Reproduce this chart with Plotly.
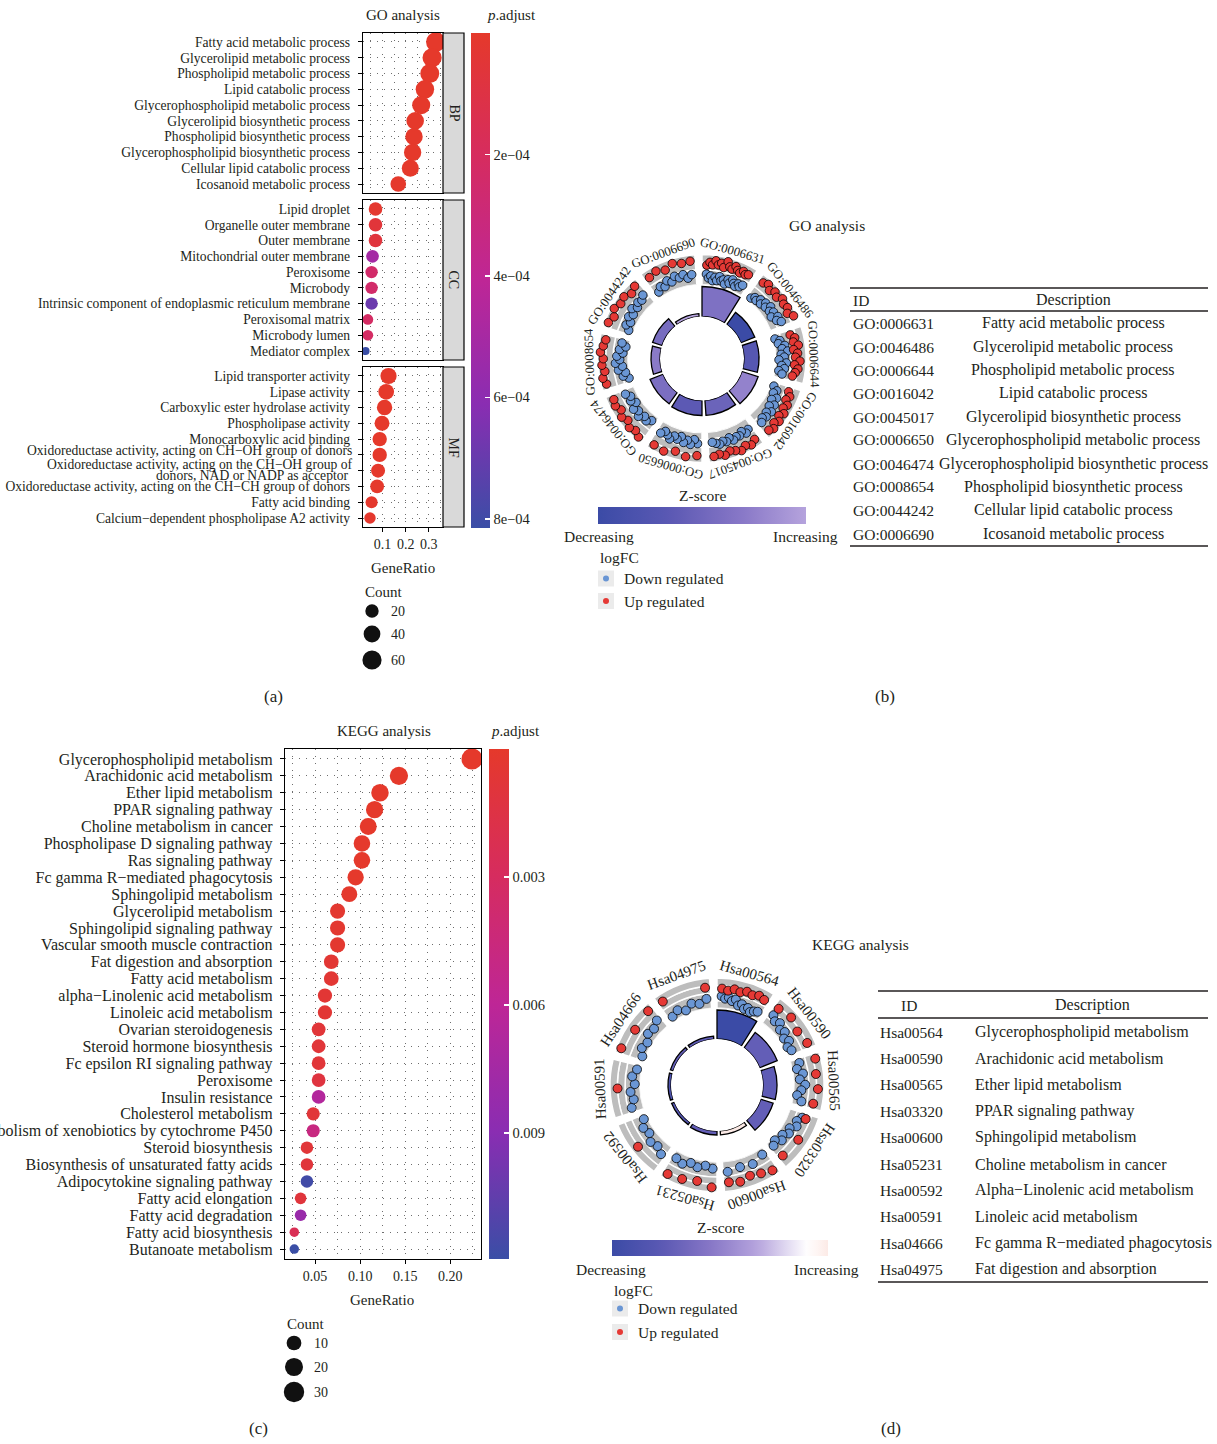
import math
import plotly.graph_objects as go

W, H = 1217, 1444
FONT = "Liberation Serif"
TXT = "#231F20"


def X(px):
    return px / W


def Y(py):
    return 1 - py / H


# ------------------------------------------------------------------ data
bp_terms = ["Fatty acid metabolic process", "Glycerolipid metabolic process",
            "Phospholipid metabolic process", "Lipid catabolic process",
            "Glycerophospholipid metabolic process", "Glycerolipid biosynthetic process",
            "Phospholipid biosynthetic process", "Glycerophospholipid biosynthetic process",
            "Cellular lipid catabolic process", "Icosanoid metabolic process"]
bp_ratio = [0.330, 0.314, 0.304, 0.283, 0.267, 0.241, 0.236, 0.230, 0.220, 0.168]
bp_count = [63, 60, 58, 54, 51, 46, 45, 44, 42, 32]
bp_padj = [3.1e-14, 4.0e-9, 2.2e-9, 6.5e-10, 1.5e-8, 2.6e-8, 3.1e-8, 4.4e-8, 9.0e-8, 2.0e-6]

cc_terms = ["Lipid droplet", "Organelle outer membrane", "Outer membrane",
            "Mitochondrial outer membrane", "Peroxisome", "Microbody",
            "Intrinsic component of endoplasmic reticulum membrane", "Peroxisomal matrix",
            "Microbody lumen", "Mediator complex"]
cc_ratio = [0.070, 0.070, 0.070, 0.057, 0.053, 0.053, 0.053, 0.037, 0.037, 0.027]
cc_count = [21, 21, 21, 17, 16, 16, 16, 11, 11, 8]
cc_padj = [1.6e-5, 6.0e-5, 7.0e-5, 5.1e-4, 2.4e-4, 2.4e-4, 6.9e-4, 2.2e-4, 2.2e-4, 8.15e-4]

mf_terms = ["Lipid transporter activity", "Lipase activity", "Carboxylic ester hydrolase activity",
            "Phospholipase activity", "Monocarboxylic acid binding",
            "Oxidoreductase activity, acting on CH\u2212OH group of donors",
            "Oxidoreductase activity, acting on the CH\u2212OH group of donors, NAD or NADP as acceptor",
            "Oxidoreductase activity, acting on the CH\u2212CH group of donors",
            "Fatty acid binding", "Calcium\u2212dependent phospholipase A2 activity"]
mf_ratio = [0.126, 0.116, 0.109, 0.098, 0.088, 0.088, 0.081, 0.077, 0.053, 0.046]
mf_count = [36, 33, 31, 28, 25, 25, 23, 22, 15, 13]
mf_padj = [2e-9, 5e-8, 8e-8, 3e-7, 1e-6, 1.5e-6, 2e-6, 3e-6, 8e-6, 1.2e-5]
# label lines for the two crowded MF rows (row 5 single line, row 6 wrapped)
mf_row5_label = "Oxidoreductase activity, acting on CH\u2212OH group of donors"
mf_wrapped = ["Oxidoreductase activity, acting on the CH\u2212OH group of",
              "donors, NAD or NADP as acceptor"]

kegg_terms = ["Glycerophospholipid metabolism", "Arachidonic acid metabolism", "Ether lipid metabolism",
              "PPAR signaling pathway", "Choline metabolism in cancer", "Phospholipase D signaling pathway",
              "Ras signaling pathway", "Fc gamma R\u2212mediated phagocytosis", "Sphingolipid metabolism",
              "Glycerolipid metabolism", "Sphingolipid signaling pathway", "Vascular smooth muscle contraction",
              "Fat digestion and absorption", "Fatty acid metabolism", "alpha\u2212Linolenic acid metabolism",
              "Linoleic acid metabolism", "Ovarian steroidogenesis", "Steroid hormone biosynthesis",
              "Fc epsilon RI signaling pathway", "Peroxisome", "Insulin resistance", "Cholesterol metabolism",
              "Metabolism of xenobiotics by cytochrome P450", "Steroid biosynthesis",
              "Biosynthesis of unsaturated fatty acids", "Adipocytokine signaling pathway",
              "Fatty acid elongation", "Fatty acid degradation", "Fatty acid biosynthesis",
              "Butanoate metabolism"]
kegg_count = [33, 21, 18, 17, 16, 15, 15, 14, 13, 11, 11, 11, 10, 10, 9, 9, 8, 8, 8, 8, 8, 7, 7, 6, 6, 6, 5, 5, 4, 4]
kegg_ratio = [0.224, 0.143, 0.122, 0.116, 0.109, 0.102, 0.102, 0.095, 0.088, 0.075, 0.075, 0.075,
              0.068, 0.068, 0.061, 0.061, 0.054, 0.054, 0.054, 0.054, 0.054, 0.048, 0.048,
              0.041, 0.041, 0.041, 0.034, 0.034, 0.027, 0.027]
kegg_padj = [1e-12, 1e-8, 1e-7, 5e-6, 1e-5, 3e-5, 3e-5, 5e-5, 1e-4, 3e-4, 3e-4, 3e-4, 5e-4, 5e-4,
             6e-4, 6e-4, 8e-4, 8e-4, 8e-4, 1.2e-3, 6.6e-3, 8e-4, 4.8e-3, 8e-4, 9e-4, 1.17e-2,
             1.0e-3, 8.1e-3, 2.4e-3, 1.195e-2]

# GO circle (panel b)
go_ids = ["GO:0006631", "GO:0046486", "GO:0006644", "GO:0016042", "GO:0045017",
          "GO:0006650", "GO:0046474", "GO:0008654", "GO:0044242", "GO:0006690"]
go_desc = ["Fatty acid metabolic process", "Glycerolipid metabolic process",
           "Phospholipid metabolic process", "Lipid catabolic process",
           "Glycerolipid biosynthetic process", "Glycerophospholipid metabolic process",
           "Glycerophospholipid biosynthetic process", "Phospholipid biosynthetic process",
           "Cellular lipid catabolic process", "Icosanoid metabolic process"]
go_logp = [15.0, 7.5, 7.5, 8.5, 7.5, 7.5, 7.0, 4.5, 5.0, 1.5]
go_zscore = [-2.5, -4.6, -3.6, -2.0, -3.0, -3.4, -2.6, -2.2, -2.7, -1.2]
go_down = [
    [-0.6, -1.1, -0.8, -1.4, -0.9, -1.3, -0.7, -1.2, -1.0, -1.5, -0.8, -1.2, -0.6, -1.0, -1.3, -0.8, -1.1, -0.7],
    [-1.5, -1.1, -1.3, -0.8, -1.2, -0.6, -1.0, -0.4, -0.9, -0.5, -1.1, -0.3, -0.7, -0.2],
    [-1.8, -1.2, -1.5, -0.7, -1.1, -0.4, -1.3, -0.9, -1.6, -0.6, -1.2, -0.8, -1.5, -1.0],
    [-1.6, -1.0, -1.3, -0.6, -1.1, -0.4, -0.9, -0.2, -0.7, -0.3, -0.6, -0.2],
    [-0.6, -0.3, -0.8, -0.4, -0.5, -0.2, -0.7, -0.3, -0.5, -0.2, -0.4, -0.6],
    [-0.5, -1.0, -0.3, -0.8, -0.4, -1.1, -0.6, -0.9, -0.3, -0.7, -1.0, -0.5],
    [-1.2, -0.7, -1.0, -0.4, -0.9, -0.5, -1.3, -0.8, -1.1, -0.6],
    [-1.8, -1.1, -1.5, -0.6, -1.2, -0.3, -0.9, -0.5, -1.3, -0.8, -1.6, -1.0],
    [-1.4, -0.8, -1.2, -0.6, -1.0, -0.4, -0.9, -0.5, -0.7, -0.3],
    [-1.3, -0.8, -1.1, -0.5, -0.9, -0.3, -0.7, -0.4, -1.0, -0.6],
]
go_up = [
    [0.6, 1.0, 0.7, 1.3, 0.8, 1.1, 0.6, 1.5, 0.9, 0.7, 1.2, 0.8, 0.6, 1.0, 0.7, 0.9],
    [1.1, 1.4, 0.9, 1.3, 1.0, 1.5, 1.2, 1.4, 1.0, 1.6],
    [0.3, 0.8, 0.5, 1.1, 0.4, 0.9, 0.6, 1.2, 0.5, 1.0, 0.7, 0.4],
    [0.5, 0.9, 0.6, 1.1, 0.8, 1.3, 0.9, 1.4, 1.0, 1.5, 1.2],
    [1.0, 1.4, 1.1, 1.5, 1.2, 1.0, 1.4, 1.1, 1.3],
    [1.1, 1.4, 1.0, 1.5, 1.3],
    [1.6, 1.2, 1.5, 1.0, 1.4, 0.9, 1.3, 1.1],
    [1.3, 1.6, 1.2, 1.5, 1.3, 1.7, 1.4, 1.2],
    [1.5, 1.1, 1.6, 1.2, 1.4, 0.9, 1.3],
    [1.0, 1.3, 0.9, 1.4, 1.1, 1.2],
]

# KEGG circle (panel d)
kg_ids = ["Hsa00564", "Hsa00590", "Hsa00565", "Hsa03320", "Hsa00600",
          "Hsa05231", "Hsa00592", "Hsa00591", "Hsa04666", "Hsa04975"]
kg_desc = ["Glycerophospholipid metabolism", "Arachidonic acid metabolism", "Ether lipid metabolism",
           "PPAR signaling pathway", "Sphingolipid metabolism", "Choline metabolism in cancer",
           "Alpha\u2212Linolenic acid metabolism", "Linoleic acid metabolism",
           "Fc gamma R\u2212mediated phagocytosis", "Fat digestion and absorption"]
kg_logp = [14.5, 9.5, 7.0, 6.5, 2.0, 2.0, 1.5, 1.5, 1.5, 1.5]
kg_zscore = [-3.3, -2.3, -2.4, -2.3, 0.35, -2.3, -2.6, -2.8, -2.3, -2.4]
kg_down = [
    [-0.4, -0.7, -0.5, -0.9, -0.6, -1.3, -1.0, -1.5, -1.2, -1.6, -1.3, -1.1],
    [-0.3, -0.8, -0.5, -1.1, -0.8, -1.4, -1.0, -1.6, -1.3],
    [-0.9, -1.4, -0.7, -1.2, -0.5, -1.0, -1.5, -0.8],
    [-0.1, -0.6, -0.3, -1.0, -0.7, -1.3, -0.9, -1.6, -1.2],
    [-1.2, -0.7, -0.9, -0.6],
    [-1.1, -1.4, -1.0, -1.3, -0.8, -1.1],
    [-0.4, -0.9, -0.6, -1.2, -0.9, -1.5],
    [-0.5, -1.0, -0.7, -1.3, -0.9, -1.4],
    [-1.6, -1.1, -1.4, -0.8, -1.0, -0.5],
    [-1.4, -1.0, -1.5, -0.9, -1.2, -0.7],
]
kg_up = [
    [0.6, 0.4, 0.7, 0.5, 0.8, 0.6, 0.9, 0.7],
    [0.8, 1.1, 0.6, 1.0],
    [1.3, 1.0, 1.2, 0.8],
    [0.4, 0.8, 0.6],
    [1.3, 0.9, 0.6, 1.0, 0.8],
    [1.4, 0.8, 1.1, 1.3],
    [1.1],
    [1.0],
    [1.4, 0.9, 1.2],
    [1.0, 0.8],
]

# ------------------------------------------------------------------ styles
RED_PT = "#E53935"
BLUE_PT = "#6A96D4"
GRID = "#6E6E6E"
PADJ_STOPS = [(0.0, (58, 78, 166)), (0.25, (138, 45, 178)), (0.5, (190, 38, 150)),
              (0.75, (214, 44, 95)), (1.0, (229, 57, 43))]
Z_STOPS = [(0.0, (59, 75, 166)), (0.125, (90, 88, 179)), (0.25, (134, 118, 198)),
           (0.375, (183, 165, 222)), (0.5, (255, 255, 255)), (0.6, (250, 215, 208)),
           (1.0, (229, 57, 53))]


def interp(stops, p):
    p = min(max(p, 0), 1)
    for (a, ca), (b, cb) in zip(stops[:-1], stops[1:]):
        if a <= p <= b:
            f = (p - a) / (b - a) if b > a else 0
            c = [round(ca[i] + (cb[i] - ca[i]) * f) for i in range(3)]
            return "rgb(%d,%d,%d)" % tuple(c)
    return "rgb(%d,%d,%d)" % stops[-1][1]


def z_colorscale(zs):
    lo, hi = min(zs), max(zs)
    A = max(abs(lo), abs(hi))
    out = []
    for k in range(21):
        z = lo + (hi - lo) * k / 20
        out.append([k / 20, interp(Z_STOPS, 0.5 + z / (2 * A))])
    return out


PADJ_SCALE = [[a, "rgb(%d,%d,%d)" % c] for a, c in PADJ_STOPS]


def size_scale(counts, dmin, dmax, lo, hi):
    return [dmin + (dmax - dmin) * ((c - lo) / (hi - lo)) ** 0.5 for c in counts]


fig = go.Figure()
annotations = []
shapes = []


def txt(x, y, s, size=14, xanchor="center", yanchor="middle", angle=0, color=TXT):
    annotations.append(dict(x=X(x), y=Y(y), xref="paper", yref="paper", text=s, showarrow=False,
                            xanchor=xanchor, yanchor=yanchor, textangle=angle,
                            font=dict(family=FONT, size=size, color=color)))


GRID_STYLE = dict(showgrid=True, gridcolor=GRID, gridwidth=1, griddash="1px,6px")

# ------------------------------------------------------------------ (a) GO dot plot
go_counts_all = bp_count + cc_count + mf_count
GO_LO, GO_HI = min(go_counts_all), max(go_counts_all)
facets = [(bp_terms, bp_ratio, bp_count, bp_padj, 33, 193, "BP"),
          (cc_terms, cc_ratio, cc_count, cc_padj, 200, 360, "CC"),
          (mf_terms, mf_ratio, mf_count, mf_padj, 367, 527, "MF")]
layout_axes = {}
GO_LAB = 13.6
special = {mf_terms[5], mf_terms[6]}
for i, (terms, ratio, count, padj, top, bot, lab) in enumerate(facets):
    k = i + 1
    xa = "x" if k == 1 else "x%d" % k
    ya = "y" if k == 1 else "y%d" % k
    fig.add_trace(go.Scatter(x=ratio, y=terms, mode="markers", xaxis=xa, yaxis=ya,
                             marker=dict(size=size_scale(count, 8, 19.5, GO_LO, GO_HI), opacity=1,
                                         color=[-p for p in padj], coloraxis="coloraxis",
                                         line=dict(width=0)),
                             hoverinfo="skip", showlegend=False))
    last = (k == 3)
    layout_axes["xaxis" if k == 1 else "xaxis%d" % k] = dict(
        domain=[X(363), X(443)], range=[0.016, 0.361], tickmode="array", tickvals=[0.1, 0.2, 0.3],
        ticktext=["0.1", "0.2", "0.3"], showticklabels=last, ticks="outside" if last else "",
        ticklen=4, tickcolor="black", showline=True, mirror=True, linecolor="black", linewidth=1.2,
        minor=dict(tickvals=[0.05, 0.15, 0.25, 0.35], **GRID_STYLE),
        zeroline=False, anchor=ya, automargin=False,
        tickfont=dict(size=14, color=TXT, family=FONT), **GRID_STYLE)
    n = len(terms)
    ticktext = ["" if t in special else t for t in terms]
    layout_axes["yaxis" if k == 1 else "yaxis%d" % k] = dict(
        domain=[Y(bot), Y(top)], type="category", categoryorder="array", categoryarray=terms,
        tickmode="array", tickvals=terms, ticktext=ticktext,
        range=[n - 1 + 0.57, -0.57], ticks="outside", ticklen=4, tickcolor="black",
        showline=True, mirror=True, linecolor="black", linewidth=1.2, zeroline=False,
        anchor=xa, automargin=False, tickfont=dict(size=GO_LAB, color=TXT, family=FONT),
        ticklabelstandoff=5, **GRID_STYLE)
    shapes.append(dict(type="rect", xref="paper", yref="paper", x0=X(443), x1=X(464),
                       y0=Y(bot), y1=Y(top), fillcolor="#D9D9D9", line=dict(color="black", width=1.2)))
    txt(453.5, (top + bot) / 2, lab, size=14, angle=90)
    if k == 3:
        def row_y(idx):
            return top + 9 + (bot - top - 18) * idx / (n - 1)
        txt(354, row_y(5) - 4, mf_row5_label, GO_LAB, xanchor="right")
        txt(354, row_y(6) - 6.5, mf_wrapped[0], GO_LAB, xanchor="right")
        txt(351, row_y(6) + 4.5, mf_wrapped[1], GO_LAB, xanchor="right")

txt(403, 15, "GO analysis", 15)
txt(485, 15, "<i>p</i>.adjust", 15, xanchor="left")
txt(403, 568, "GeneRatio", 15)
txt(363, 592, "Count", 15, xanchor="left")
for val, yy in zip([20, 40, 60], [611, 634, 660]):
    d = size_scale([val], 8, 19.5, GO_LO, GO_HI)[0]
    shapes.append(dict(type="circle", xref="paper", yref="paper", x0=X(372 - d / 2), x1=X(372 + d / 2),
                       y0=Y(yy + d / 2), y1=Y(yy - d / 2), fillcolor="#111", line=dict(width=0)))
    txt(389, yy, str(val), 14, xanchor="left")

# ------------------------------------------------------------------ (c) KEGG dot plot
K_LO, K_HI = min(kegg_count), max(kegg_count)
fig.add_trace(go.Scatter(x=kegg_ratio, y=kegg_terms, mode="markers", xaxis="x4", yaxis="y4",
                         marker=dict(size=size_scale(kegg_count, 9.5, 21, K_LO, K_HI), opacity=1,
                                     color=[-p for p in kegg_padj], coloraxis="coloraxis2",
                                     line=dict(width=0)),
                         hoverinfo="skip", showlegend=False))
nk = len(kegg_terms)
layout_axes["xaxis4"] = dict(
    domain=[X(285), X(481)], range=[0.0167, 0.234], tickmode="array", tickvals=[0.05, 0.10, 0.15, 0.20],
    ticktext=["0.05", "0.10", "0.15", "0.20"], ticks="outside", ticklen=4, tickcolor="black",
    showline=True, mirror=True, linecolor="black", linewidth=1.2,
    minor=dict(tickvals=[0.025, 0.075, 0.125, 0.175, 0.225], **GRID_STYLE),
    zeroline=False, anchor="y4", automargin=False, tickfont=dict(size=14, color=TXT, family=FONT),
    **GRID_STYLE)
layout_axes["yaxis4"] = dict(
    domain=[Y(1259), Y(749)], type="category", categoryorder="array", categoryarray=kegg_terms,
    tickmode="array", tickvals=kegg_terms, ticktext=kegg_terms,
    range=[nk - 1 + 0.59, -0.59], ticks="outside", ticklen=4, tickcolor="black",
    showline=True, mirror=True, linecolor="black", linewidth=1.2, zeroline=False,
    anchor="x4", automargin=False, tickfont=dict(size=16, color=TXT, family=FONT), ticklabelstandoff=4,
    **GRID_STYLE)

txt(384, 731, "KEGG analysis", 15)
txt(489, 731, "<i>p</i>.adjust", 15, xanchor="left")
txt(382, 1300, "GeneRatio", 15)
txt(285, 1324, "Count", 15, xanchor="left")
for val, yy in zip([10, 20, 30], [1343, 1367, 1392]):
    d = size_scale([val], 9.5, 21, K_LO, K_HI)[0]
    shapes.append(dict(type="circle", xref="paper", yref="paper", x0=X(294 - d / 2), x1=X(294 + d / 2),
                       y0=Y(yy + d / 2), y1=Y(yy - d / 2), fillcolor="#111", line=dict(width=0)))
    txt(312, yy, str(val), 14, xanchor="left")


# ------------------------------------------------------------------ circles
polar_layouts = {}


def add_circle(pin, pout, cx, cy, R, r_in, unit_px, r_band, lfc_px, lfc_lo, lfc_hi,
               ids, logp, zs, downs, ups, cax, lab_r, lab_size, pt_size):
    dom = dict(x=[X(cx - R), X(cx + R)], y=[Y(cy + R), Y(cy - R)])
    n = len(ids)
    step = 360 / n
    wdt = step - 4
    centers = [step * i + wdt / 2 for i in range(n)]
    fig.add_trace(go.Barpolar(r=logp, theta=centers, width=[wdt] * n, base=[0] * n, subplot=pin,
                              marker=dict(color=zs, coloraxis=cax, line=dict(color="black", width=1.3)),
                              hoverinfo="skip", showlegend=False))
    th, bs, rr = [], [], []
    for c in centers:
        for k in range(lfc_lo, lfc_hi):
            th.append(c)
            bs.append(k)
            rr.append(1)
    fig.add_trace(go.Barpolar(r=rr, theta=th, base=bs, width=[wdt] * len(th), subplot=pout,
                              marker=dict(color="#BDBDBD", line=dict(color="white", width=1.5)),
                              hoverinfo="skip", showlegend=False))
    for lists, col in [(downs, BLUE_PT), (ups, RED_PT)]:
        th, rr = [], []
        for i, vals in enumerate(lists):
            m = len(vals)
            a0 = step * i + 3
            a1 = step * i + wdt - 3
            for j, v in enumerate(vals):
                th.append(a0 + (a1 - a0) * j / (m - 1) if m > 1 else (a0 + a1) / 2)
                rr.append(v)
        fig.add_trace(go.Scatterpolar(r=rr, theta=th, mode="markers", subplot=pout, cliponaxis=False,
                                      marker=dict(size=pt_size, color=col, opacity=1,
                                                  line=dict(color="black", width=0.8)),
                                      hoverinfo="skip", showlegend=False))
    ang = dict(rotation=90, direction="clockwise", visible=False)
    polar_layouts[pin] = dict(domain=dom, hole=r_in / R, bgcolor="rgba(0,0,0,0)", barmode="overlay",
                              angularaxis=ang, radialaxis=dict(range=[0, (R - r_in) / unit_px], visible=False))
    polar_layouts[pout] = dict(domain=dom, hole=r_band / R, bgcolor="rgba(0,0,0,0)", barmode="overlay",
                               angularaxis=ang,
                               radialaxis=dict(range=[lfc_lo, lfc_lo + (R - r_band) / lfc_px], visible=False))
    for c, lab in zip(centers, ids):
        a = math.radians(c)
        annotations.append(dict(x=X(cx + lab_r * math.sin(a)), y=Y(cy - lab_r * math.cos(a)),
                                xref="paper", yref="paper", text=lab, showarrow=False,
                                xanchor="center", yanchor="middle",
                                textangle=c if c <= 180 else c - 360,
                                font=dict(family=FONT, size=lab_size, color=TXT)))


add_circle("polar", "polar2", 702, 358.5, 125, 42, 2, 74, 7.5, -2, 2,
           go_ids, go_logp, go_zscore, go_down, go_up, "coloraxis3", 112, 12.8, 8.5)
add_circle("polar3", "polar4", 717, 1085, 125, 46, 2, 77, 7.5, -2, 2,
           kg_ids, kg_logp, kg_zscore, kg_down, kg_up, "coloraxis4", 117, 15, 9)


# ------------------------------------------------------------------ (b)/(d) legends & tables
def logfc_legend(x0, ytitle, y1, y2):
    txt(x0, ytitle, "logFC", 15.5, xanchor="left")
    for yy, col, lab in [(y1, BLUE_PT, "Down regulated"), (y2, RED_PT, "Up regulated")]:
        shapes.append(dict(type="rect", xref="paper", yref="paper", x0=X(x0), x1=X(x0 + 16),
                           y0=Y(yy + 8), y1=Y(yy - 8), fillcolor="#EBEBEB", line=dict(width=0)))
        shapes.append(dict(type="circle", xref="paper", yref="paper", x0=X(x0 + 5), x1=X(x0 + 11),
                           y0=Y(yy + 3), y1=Y(yy - 3), fillcolor=col, line=dict(width=0)))
        txt(x0 + 24, yy, lab, 15.5, xanchor="left")


txt(827, 226, "GO analysis", 15.5)
txt(702, 495, "Z-score", 15.5)
txt(599, 537, "Decreasing", 15.5)
txt(805, 537, "Increasing", 15.5)
logfc_legend(598, 557, 578.5, 601)

txt(860, 944, "KEGG analysis", 15.5)
txt(720, 1227, "Z-score", 15.5)
txt(611, 1269, "Decreasing", 15.5)
txt(826, 1269, "Increasing", 15.5)
logfc_legend(612, 1290, 1308.5, 1332)


def hline(x0, x1, y, w):
    shapes.append(dict(type="line", xref="paper", yref="paper", x0=X(x0), x1=X(x1), y0=Y(y), y1=Y(y),
                       line=dict(color="#231F20", width=w)))


# GO table
hline(850, 1208, 288, 1.5)
hline(850, 1208, 311, 1.5)
hline(850, 1208, 546, 1.5)
txt(851, 300, "ID", 15.5, xanchor="left")
txt(1073, 300, "Description", 16)
go_rows_y = [323, 347, 370, 393.5, 417, 440, 464, 487, 510.5, 534]
for yy, i_d, de in zip(go_rows_y, go_ids, go_desc):
    txt(851, yy, i_d, 15.5, xanchor="left")
    txt(1073, yy, de, 16)

# KEGG table
hline(878, 1208, 991, 1.5)
hline(878, 1208, 1018, 1.5)
hline(878, 1208, 1282, 1.5)
txt(909, 1005, "ID", 15.5)
txt(1092, 1005, "Description", 16)
kg_rows_y = [1032, 1058, 1084.5, 1111, 1137, 1164, 1190, 1216, 1243, 1269]
for yy, i_d, de in zip(kg_rows_y, kg_ids, kg_desc):
    txt(878, yy, i_d, 15.5, xanchor="left")
    txt(973, yy, de, 16, xanchor="left")

# panel letters
txt(273, 696, "(a)", 17)
txt(885, 696, "(b)", 17)
txt(258, 1428, "(c)", 17)
txt(891, 1428, "(d)", 17)

# ------------------------------------------------------------------ color axes
go_pmin, go_pmax = min(bp_padj + cc_padj + mf_padj), max(bp_padj + cc_padj + mf_padj)
k_pmin, k_pmax = min(kegg_padj), max(kegg_padj)


def vbar(x, top, length, thick, vals, labels):
    return dict(x=X(x), xanchor="left", xpad=0, y=Y(top), yanchor="top", ypad=0,
                len=length, lenmode="pixels", thickness=thick, thicknessmode="pixels",
                outlinewidth=0, tickmode="array", tickvals=[-v for v in vals], ticktext=labels,
                ticks="inside", ticklen=5, tickwidth=1.5, tickcolor="white",
                tickfont=dict(family=FONT, size=14.5, color=TXT), title=dict(text=""))


def hbar(x, top, length, thick, zs):
    return dict(orientation="h", x=X(x), xanchor="left", xpad=0, y=Y(top), yanchor="top", ypad=0,
                len=length, lenmode="pixels", thickness=thick, thicknessmode="pixels",
                outlinewidth=0, tickmode="array", tickvals=[min(zs), max(zs)], showticklabels=False,
                ticks="inside", ticklen=3, tickwidth=1.5, tickcolor="white", title=dict(text=""))


layout = dict(
    template="none",
    width=W, height=H, margin=dict(l=0, r=0, t=0, b=0, pad=0, autoexpand=False),
    paper_bgcolor="white", plot_bgcolor="white",
    font=dict(family=FONT, color=TXT), showlegend=False,
    annotations=annotations, shapes=shapes,
    coloraxis=dict(cmin=-go_pmax, cmax=-go_pmin, colorscale=PADJ_SCALE,
                   colorbar=vbar(471, 33, 495, 19, [2e-4, 4e-4, 6e-4, 8e-4],
                                 ["2e\u221204", "4e\u221204", "6e\u221204", "8e\u221204"])),
    coloraxis2=dict(cmin=-k_pmax, cmax=-k_pmin, colorscale=PADJ_SCALE,
                    colorbar=vbar(489, 749, 510, 20, [0.003, 0.006, 0.009], ["0.003", "0.006", "0.009"])),
    coloraxis3=dict(cmin=min(go_zscore), cmax=max(go_zscore), colorscale=z_colorscale(go_zscore),
                    colorbar=hbar(598, 507, 208, 17, go_zscore)),
    coloraxis4=dict(cmin=min(kg_zscore), cmax=max(kg_zscore), colorscale=z_colorscale(kg_zscore),
                    colorbar=hbar(612, 1240, 216, 16, kg_zscore)),
)
layout.update(layout_axes)
layout.update(polar_layouts)
fig.update_layout(**layout)
fig.write_html("out.html", config={"displayModeBar": False, "staticPlot": True},
               post_script="document.body.style.margin='0';document.body.style.padding='0';"
                           "document.body.style.overflow='hidden';")
